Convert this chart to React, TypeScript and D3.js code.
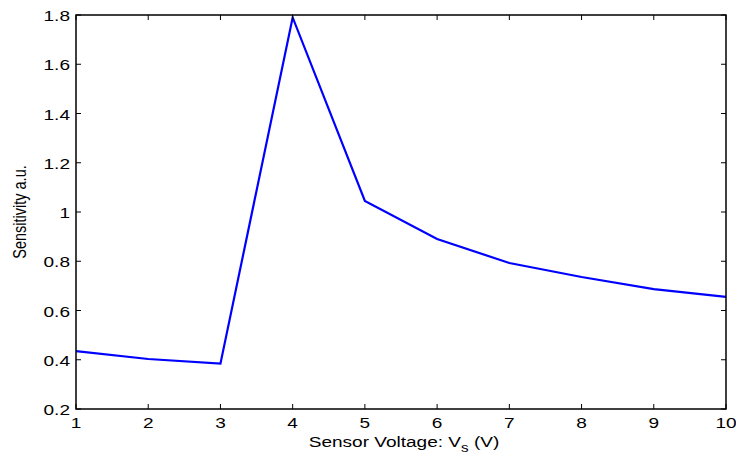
import React from 'react';
import * as d3 from 'd3';

// Sensor voltage (V) and measured sensitivity
const voltages = [1, 2, 3, 4, 5, 6, 7, 8, 9, 10];
const sensitivity = [0.435, 0.403, 0.384, 1.79, 1.045, 0.89, 0.793, 0.736, 0.687, 0.655];
const xTicks = [1, 2, 3, 4, 5, 6, 7, 8, 9, 10];
const yTicks = [0.2, 0.4, 0.6, 0.8, 1, 1.2, 1.4, 1.6, 1.8];

const W = 736;
const H = 455;
const margin = { top: 15, right: 10, bottom: 46, left: 76 };
// the original figure was stretched sideways, text included
const sx = 1.27;

const App = () => {
  const iw = W - margin.left - margin.right;
  const ih = H - margin.top - margin.bottom;

  const x = d3.scaleLinear().domain([1, 10]).range([0, iw]);
  const y = d3.scaleLinear().domain([0.2, 1.8]).range([ih, 0]);

  const line = d3.line<number>()
    .x((_, i) => x(voltages[i]))
    .y(d => y(d));

  const tickLen = 5;
  const font = 'Liberation Sans, Arial, sans-serif';

  return (
    <svg width={W} height={H} style={{ position: 'absolute', left: 0, top: 0, background: '#fff' }}>
      <g transform={`translate(${margin.left},${margin.top})`}>
        <path d={line(sensitivity) || ''} fill="none" stroke="#0000ff" strokeWidth={2.2} />

        {xTicks.map(t => (
          <g key={'x' + t}>
            <line x1={x(t)} x2={x(t)} y1={ih} y2={ih - tickLen} stroke="#000" />
            <line x1={x(t)} x2={x(t)} y1={0} y2={tickLen} stroke="#000" />
            <text transform={`translate(${x(t)},${ih + 19}) scale(${sx},1)`} textAnchor="middle"
              fontFamily={font} fontSize={15}>{t}</text>
          </g>
        ))}
        {yTicks.map(t => (
          <g key={'y' + t}>
            <line x1={0} x2={tickLen} y1={y(t)} y2={y(t)} stroke="#000" />
            <line x1={iw} x2={iw - tickLen} y1={y(t)} y2={y(t)} stroke="#000" />
            <text transform={`translate(-6,${y(t) + 6}) scale(${sx},1)`} textAnchor="end"
              fontFamily={font} fontSize={15}>{d3.format('')(t)}</text>
          </g>
        ))}

        <rect x={0} y={0} width={iw} height={ih} fill="none" stroke="#000" strokeWidth={1.5} />

        <text transform={`translate(${iw / 2 + 3},${ih + 38}) scale(${sx},1)`} textAnchor="middle"
          fontFamily={font} fontSize={15}>
          Sensor Voltage: V<tspan fontSize={12} dy={5}>s</tspan><tspan dy={-5}> (V)</tspan>
        </text>
        <text transform={`translate(${26 - margin.left},${ih / 2}) rotate(-90) scale(1,${sx})`}
          textAnchor="middle" fontFamily={font} fontSize={14.5}>
          Sensitivity a.u.
        </text>
      </g>
    </svg>
  );
};

export default App;
